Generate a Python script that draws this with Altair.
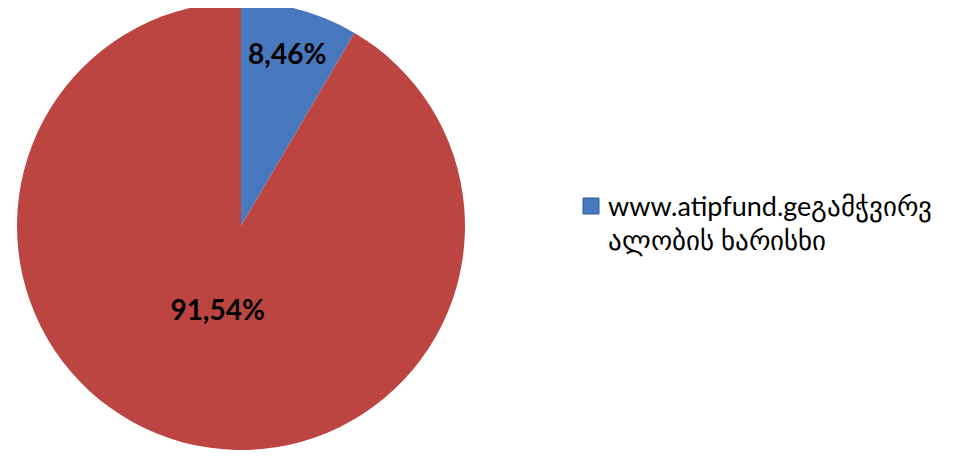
import altair as alt
import pandas as pd

categories = ["www.atipfund.geგამჭვირვ\nალობის ხარისხი", "სხვა"]
values = [8.46, 91.54]
labels = ["8,46%", "91,54%"]
colors = ["#4878BE", "#BC4542"]

df = pd.DataFrame({"cat": categories, "val": values, "lab": labels, "order": [0, 1]})
legend_df = pd.DataFrame({"cat": [categories[0]]})

cx, cy, R = 233, 218, 224
total = float(sum(values))

pie = alt.Chart(df).mark_arc(outerRadius=R, strokeWidth=0).encode(
    theta=alt.Theta("val:Q", stack=True, scale=alt.Scale(domain=[0, total])),
    order=alt.Order("order:Q"),
    x=alt.value(cx), y=alt.value(cy),
    color=alt.Color("cat:N", scale=alt.Scale(domain=categories, range=colors), legend=None),
)

txt_base = alt.Chart(df).transform_window(
    cum="sum(val)", sort=[alt.SortField("order")], frame=[None, 0]
).transform_calculate(mid="datum.cum - datum.val / 2")


def slice_label(idx, r):
    return txt_base.transform_filter(alt.datum.order == idx).mark_text(
        radius=r, font="Lato", fontWeight="bold", fontSize=28, color="#000000"
    ).encode(
        theta=alt.Theta("mid:Q", stack=False, scale=alt.Scale(domain=[0, total])),
        x=alt.value(cx), y=alt.value(cy), text="lab:N",
    )


t1 = slice_label(0, 176)
t2 = slice_label(1, 89)

leg_sym = alt.Chart(legend_df).mark_point(shape="square", filled=True, size=256,
                                          stroke="#2E5C9A", strokeWidth=1, opacity=1).encode(
    x=alt.value(583), y=alt.value(198),
    color=alt.Color("cat:N", scale=alt.Scale(domain=categories, range=colors), legend=None),
)

leg_txt = alt.Chart(legend_df).mark_text(
    align="left", baseline="alphabetic", font="Lato", fontSize=27, lineHeight=34,
    lineBreak="\n", color="#000000",
).encode(x=alt.value(600), y=alt.value(208), text="cat:N")

chart = alt.layer(pie, t1, t2, leg_sym, leg_txt).properties(
    width=959, height=443,
    autosize=alt.AutoSizeParams(type="none"),
    padding=0,
).configure_view(stroke=None)

chart.save("out.html", embed_options={"renderer": "svg", "actions": False})
